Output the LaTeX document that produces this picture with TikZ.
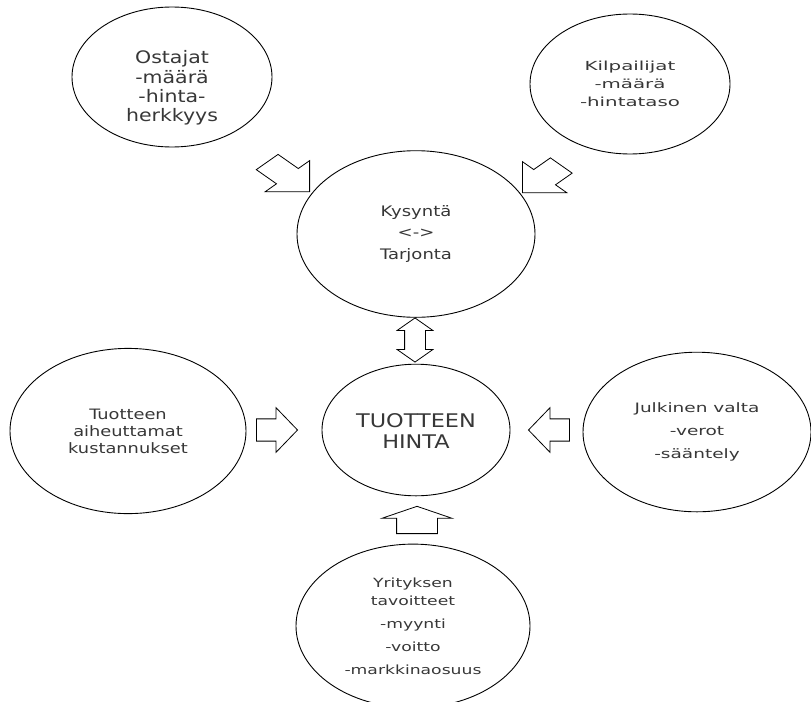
\documentclass[tikz,border=0pt]{standalone}
\usepackage{fontspec}
\setmainfont{DejaVu Sans}
\usetikzlibrary{shapes.arrows}

\begin{document}
\begin{tikzpicture}[x=1pt,y=-1.4286pt,yscale=0.7,
    every node/.style={transform shape},
    factor/.style={
      circle,
      draw=black,
      line width=0.9pt,
      inner sep=0pt
    },
    txt/.style={
      text=txtgray,
      align=center,
      inner sep=0pt
    },
    blockarrow/.style={
      single arrow,
      draw=black,
      line width=0.8pt,
      inner xsep=0pt,
      minimum width=0pt,
      single arrow tip angle=90
    }]

\definecolor{txtgray}{RGB}{55,55,55}

\useasboundingbox (0,0) rectangle (811,701);

\node[factor, minimum size=200pt] (os) at (172,77) {};
\node[factor, minimum size=200pt] (ki) at (630,84) {};
\node[factor, minimum size=238pt] (ky) at (416,234) {};
\node[factor, minimum size=236pt] (ku) at (128,431) {};
\node[factor, minimum size=188pt] (hi) at (416,430) {};
\node[factor, minimum size=228pt] (jv) at (697,432) {};
\node[factor, minimum size=234pt] (yt) at (413,626) {};

\node[txt, yscale=1.2, font=\fontsize{20.5}{23.2}\selectfont] (ostxt) at (172,88) {Ostajat\\-määrä\\-hinta-\\herkkyys};
\node[txt, yscale=0.9, font=\fontsize{19.8}{28.6}\selectfont] (kitxt) at (ki) {Kilpailijat\\-määrä\\-hintataso};
\node[txt, yscale=1.15, font=\fontsize{18}{27.3}\selectfont] (kytxt) at (ky) {Kysyntä\\<->\\Tarjonta};
\node[txt, yscale=1.15, font=\fontsize{17.8}{21.1}\selectfont] (kutxt) at (ku) {Tuotteen\\aiheuttamat\\kustannukset};
\node[txt, yscale=1.2, font=\fontsize{22.4}{25}\selectfont] (hitxt) at ([yshift=-2pt]hi.center) {TUOTTEEN\\HINTA};
\node[txt, font=\fontsize{18.5}{33}\selectfont] (jvtxt) at (jv) {Julkinen valta\\-verot\\-sääntely};
\node[txt, yscale=1.05, font=\fontsize{17.2}{24.5}\selectfont] (yttxt) at (yt) {Yrityksen\\tavoitteet\\[6.8pt]-myynti\\[6.8pt]-voitto\\[6.8pt]-markkinaosuus};

% block arrows into the circles
\node[blockarrow, rotate=-45, anchor=tip, inner ysep=15pt, single arrow head extend=16pt, minimum height=60pt] (osky) at (310,192) {};
\node[blockarrow, rotate=-135, anchor=tip, inner ysep=15pt, single arrow head extend=16pt, minimum height=55pt] (kiky) at (522,193) {};
\node[double arrow, draw=black, line width=0.8pt, rotate=90, inner xsep=0pt, inner ysep=10pt, minimum width=0pt, double arrow head extend=7.5pt, double arrow tip angle=90, minimum height=63pt] (kyhi) at (415,340) {};

\node[blockarrow, anchor=tip, inner ysep=15.5pt, single arrow head extend=16pt, single arrow tip angle=112, minimum height=41pt] (kuhi) at (298,430) {};
\node[blockarrow, rotate=180, anchor=tip, inner ysep=15.5pt, single arrow head extend=16pt, single arrow tip angle=112, minimum height=41pt] (jvhi) at (528,430) {};
\node[blockarrow, rotate=90, anchor=tip, inner ysep=20pt, single arrow head extend=14.5pt, single arrow tip angle=128, minimum height=39pt] (ythi) at (417,506) {};

\end{tikzpicture}
\end{document}
